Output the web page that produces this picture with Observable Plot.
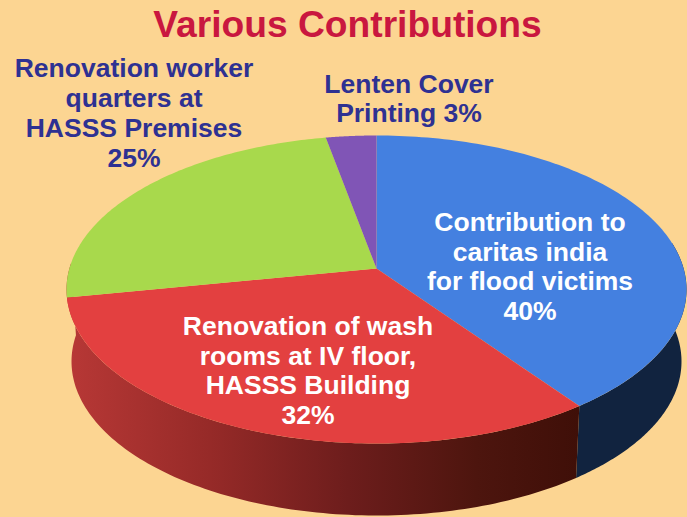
<!DOCTYPE html>
<html>
<head>
<meta charset="utf-8">
<script src="https://cdn.jsdelivr.net/npm/d3@7"></script>
<script src="https://cdn.jsdelivr.net/npm/@observablehq/plot@0.6"></script>
<style>
html,body{margin:0;padding:0;background:#fcd592;overflow:hidden}
svg{display:block}
</style>
</head>
<body>
<div id="chart"></div>
<script>
// Data, clockwise from the top of the pie
const categories = ["Contribution to\ncaritas india\nfor flood victims", "Renovation of wash\nrooms at IV floor,\nHASSS Building", "Renovation worker\nquarters at\nHASSS Premises", "Lenten Cover\nPrinting"];
const shares = [40, 32, 25, 3];
const percentLabels = ["40%", "32%", "25%", "3%"];
const title = "Various Contributions";

// Styling and layout
const W = 687, H = 517;
const topColors = ["#4480e0", "#e34040", "#a8d94c", "#8055b6"];
const labelColors = ["#ffffff", "#ffffff", "#2e3192", "#2e3192"];
const labelX = [529.5, 307.5, 133.5, 408.5];
const labelY = [265.5, 369.5, 112, 97.5];
const labelJoin = ["\n", "\n", "\n", " "];
const top3d = {cx: 376, cy: 289, rx: 310, ry: 154};
const bottom3d = {cx: 376, cy: 361, rx: 305, ry: 154};
const tilt = 0.136; // perspective shift of the pie centre

// Perspective projection of a point on the unit disc
function project(e, u, v) {
  const w = 1 + tilt * v;
  return {
    px: e.cx + e.rx * u * Math.sqrt(1 - tilt * tilt) / w,
    py: e.cy - e.ry * (v + tilt) / w
  };
}
const onRim = (e, a) => project(e, Math.sin(a), Math.cos(a));
const arc = (e, a0, a1) => d3.range(0, 121).map(i => onRim(e, a0 + (a1 - a0) * i / 120));

const angles = d3.pie().sort(null).value(d => d)(shares);
const sliceShapes = angles.map(s => [project(top3d, 0, 0), ...arc(top3d, s.startAngle, s.endAngle)]);

// Visible side wall: from the right-hand extreme round to the left-hand extreme
function wall(a0, a1) {
  return [...arc(top3d, a0, a1), ...arc(bottom3d, a0, a1).reverse()];
}
const blueEnd = angles[0].endAngle;
const sideStart = 80 * Math.PI / 180, sideEnd = 272 * Math.PI / 180;
const blueWall = wall(sideStart, blueEnd);
const redWall = wall(blueEnd, sideEnd);

const gradient = () => {
  const defs = d3.create("svg:defs");
  const g = defs.append("linearGradient").attr("id", "redSide").attr("x1", 1).attr("x2", 0).attr("y1", 0).attr("y2", 0);
  [[0, "#3f0f08"], [0.2, "#4d150e"], [0.45, "#6d1d1c"], [0.72, "#962a28"], [1, "#b83836"]]
    .forEach(([o, c]) => g.append("stop").attr("offset", o).attr("stop-color", c));
  return defs.node();
};

const shape = (rows, fill) => Plot.line(rows, {x: "px", y: "py", fill, stroke: "none", curve: "linear-closed"});

const labelRows = categories.map((c, i) => ({
  text: c + labelJoin[i] + percentLabels[i],
  x: labelX[i], y: labelY[i], fill: labelColors[i]
}));

const chart = Plot.plot({
  width: W, height: H,
  margin: 0,
  x: {domain: [0, W], range: [0, W], axis: null},
  y: {domain: [0, H], range: [0, H], axis: null},
  style: {background: "#fcd592", fontFamily: "'Liberation Sans', Arial, sans-serif"},
  marks: [
    gradient,
    shape(blueWall, "#11233f"),
    shape(redWall, "url(#redSide)"),
    ...sliceShapes.map((s, i) => shape(s, topColors[i])),
    Plot.text(labelRows, {
      x: "x", y: "y", text: "text", fill: d => d.fill,
      fontSize: 26.5, fontWeight: "bold", lineHeight: 1.125, lineAnchor: "middle", textAnchor: "middle"
    }),
    Plot.text([title], {
      x: () => 347, y: () => 24.5, text: d => d,
      fill: "#c9173f", fontSize: 37.2, fontWeight: "bold", lineAnchor: "middle", textAnchor: "middle"
    })
  ]
});
document.getElementById("chart").append(chart);
</script>
</body>
</html>
